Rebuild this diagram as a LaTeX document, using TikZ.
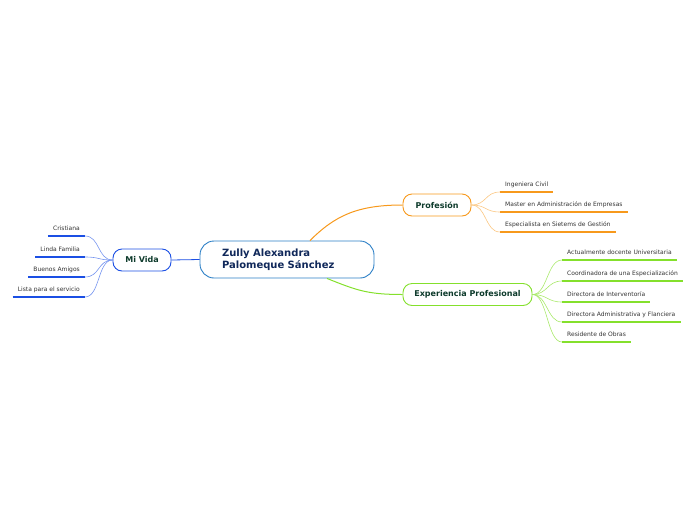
\documentclass[tikz,border=0pt]{standalone}
\usepackage{fontspec}
\setmainfont{DejaVu Sans}
\usetikzlibrary{positioning, shapes.misc, calc}
\definecolor{rootblue}{HTML}{2B7FC6}
\definecolor{rootink}{HTML}{10285A}
\definecolor{topicink}{HTML}{0E3B2C}
\definecolor{profcol}{HTML}{F7991C}
\definecolor{expcol}{HTML}{84E02C}
\definecolor{vidacol}{HTML}{1B4FE4}
\definecolor{leafink}{HTML}{333333}
\tikzset{
  % central idea
  root/.style={draw=rootblue, fill=white, rounded corners=14pt, line width=0.9pt,
               text width=130pt, align=left, inner xsep=22pt, minimum height=37pt,
               font=\bfseries\fontsize{10}{11.5}\selectfont, text=rootink},
  % main topic
  topic/.style={draw=#1, fill=white, rounded corners=9pt, line width=0.9pt,
                minimum height=22pt, font=\bfseries\fontsize{8}{9}\selectfont,
                text=topicink},
  % subtopic text sitting on a line
  leaf/.style={inner xsep=5pt, inner ysep=4pt, text height=4.5pt, text depth=1.2pt,
               font=\fontsize{6}{7}\selectfont, text=leafink},
  underline/.style={draw=#1, line width=1.6pt},
  branch/.style={draw=#1, line width=0.6pt},
}
\begin{document}
\begin{tikzpicture}[x=1pt,y=-1pt]
  \useasboundingbox (0,0) rectangle (696,520);
  \node[root] (zully) at (287,259.5) {Zully Alexandra\\Palomeque Sánchez};
  \node[topic=profcol, minimum width=68pt] (prof) at (437,205) {Profesión};
  \node[topic=expcol, minimum width=129pt] (exp) at (467.5,294.5) {Experiencia Profesional};
  \node[topic=vidacol, minimum width=58pt] (vida) at (142,260) {Mi Vida};
  \draw[branch=profcol, line width=1pt]
    ([xshift=23pt]zully.north) .. controls +(25,-25) and +(-45,0) .. (prof.west);
  \draw[branch=expcol, line width=1pt]
    ([xshift=40pt]zully.south) .. controls +(30,12) and +(-35,0) .. (exp.west);
  \draw[branch=vidacol, line width=0.8pt] (zully.west) -- (vida.east);
  % Profesion
  \foreach \n/\y/\t in {p1/192/Ingeniera Civil,
                        p2/212/Master en Administración de Empresas,
                        p3/232/Especialista en Sietems de Gestión} {
    \node[leaf, anchor=south west] (\n) at (500,\y) {\t};
    \draw[underline=profcol] (\n.south west) -- (\n.south east);
    \draw[branch=profcol!55] (prof.east) .. controls +(15,0) and +(-15,0) .. (\n.south west);
  }
  % Experiencia Profesional
  \foreach \n/\y/\t in {e1/260/Actualmente docente Universitaria,
                        e2/281/Coordinadora de una Especialización,
                        e3/302/Directora de Interventoría,
                        e4/322/Directora Administrativa y Flanciera,
                        e5/342/Residente de Obras} {
    \node[leaf, anchor=south west] (\n) at (562,\y) {\t};
    \draw[underline=expcol] (\n.south west) -- (\n.south east);
    \draw[branch=expcol!70] (exp.east) .. controls +(15,0) and +(-15,0) .. (\n.south west);
  }
  % Mi Vida
  \foreach \n/\y/\t in {v1/236/Cristiana,
                        v2/257/Linda Familia,
                        v3/277/Buenos Amigos,
                        v4/297/Lista para el servicio} {
    \node[leaf, anchor=south east] (\n) at (85,\y) {\t};
    \draw[underline=vidacol] (\n.south west) -- (\n.south east);
    \draw[branch=vidacol!60] (vida.west) .. controls +(-15,0) and +(15,0) .. (\n.south east);
  }
\end{tikzpicture}
\end{document}
